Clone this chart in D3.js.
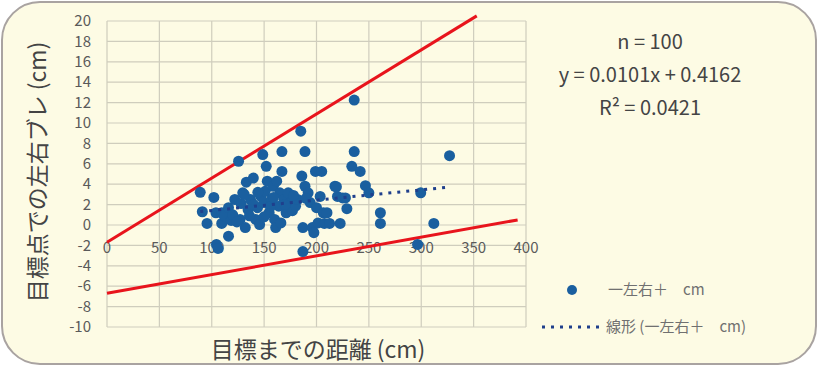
<!DOCTYPE html>
<html>
<head>
<meta charset="utf-8">
<script src="https://cdn.jsdelivr.net/npm/d3@7"></script>
<style>
  body { margin: 0; background: #fff; }
  text { font-family: "Noto Sans CJK JP", "Noto Sans", sans-serif; }
</style>
</head>
<body>
<div id="chart"></div>
<script>
// distance to target (cm) and left/right drift at the target (cm)
var distX = [89, 91, 95.5, 102, 104.5, 106, 104, 109.5, 109.5, 112,
             116, 116, 118.5, 122, 125.6, 127, 128, 129.6, 132, 133,
             134.7, 137, 139.7, 142, 143.7, 145.7, 147, 148.7, 149.7, 151,
             152, 153, 154.8, 157, 158.8, 160, 161, 162, 164, 165,
             166, 167, 167, 169, 171, 173, 175, 177, 180, 182,
             185, 186, 187, 189, 189, 187, 192, 194, 196, 197.5,
             199, 200, 201.5, 203.5, 205, 206.5, 207.5, 210, 212.5, 217.6,
             220, 222.6, 225, 227.6, 229, 233.7, 236, 236, 241.7, 246.7,
             250, 261, 261, 296.5, 299.5, 312, 327, 120, 124, 131,
             136, 140, 144, 150, 156, 159, 170, 178, 190, 219];
var driftY = [3.2, 1.3, 0.15, 2.7, -1.9, -2.3, 1.2, 1.2, 0.15, 0.9,
              1.7, -1.1, 0.45, 2.5, 6.25, 0.55, 2.1, 3.15, -0.25, 4.2,
              1.5, 2.5, 4.6, 0.55, 1.7, 0.05, 2.8, 6.9, 2.2, 3.3,
              5.75, 4.3, 1.2, 2.5, 3.8, 0.55, -0.25, 4.3, 1.85, 3.15,
              0.2, 7.2, 5.25, 2.5, 1.2, 3.15, 2.2, 1.4, 1.85, 2.5,
              9.2, 4.8, -0.25, 7.2, 3.8, -2.6, 3.15, 2.2, -0.25, -0.75,
              5.25, 1.7, 0.2, 2.8, 5.25, 1.2, 0.15, 1.2, 0.15, 3.8,
              2.8, 0.15, 2.65, 2.65, 1.6, 5.75, 12.25, 7.2, 5.25, 3.85,
              3.15, 1.2, 0.15, -1.9, 3.15, 0.15, 6.8, 1.0, 0.3, 3.0,
              0.9, 2.0, 3.2, 0.8, 1.8, 2.7, 2.0, 2.9, 2.6, 3.75];

// hand drawn red boundary lines [x, y]
var upperLine = [[0, -1.7], [353, 20.5]];
var lowerLine = [[0, -6.7], [392, 0.5]];

// linear trend
var slope = 0.0101, intercept = 0.4162;

var xTicks = [0, 50, 100, 150, 200, 250, 300, 350, 400];
var yTicks = [-10, -8, -6, -4, -2, 0, 2, 4, 6, 8, 10, 12, 14, 16, 18, 20];

var statLines = ["n = 100", "y = 0.0101x + 0.4162", "R\u00b2 = 0.0421"];
var seriesName = "一左右＋\u3000cm";
var trendName = "線形 (一左右＋\u3000cm)";

var width = 820, height = 369;

var svg = d3.select("#chart")
  .append("svg")
    .attr("width", width)
    .attr("height", height);

// card background
svg.append("rect")
  .attr("x", 2).attr("y", 2)
  .attr("width", 814).attr("height", 362)
  .attr("rx", 38).attr("ry", 38)
  .attr("fill", "#fdfbe4")
  .attr("stroke", "#a9a3a1")
  .attr("stroke-width", 2);

var x = d3.scaleLinear().domain([0, 400]).range([107, 526]);
var y = d3.scaleLinear().domain([-10, 20]).range([327, 21]);

// grid
svg.append("g")
  .selectAll("line.v")
  .data(xTicks)
  .enter().append("line")
    .attr("x1", function(d) { return x(d); })
    .attr("x2", function(d) { return x(d); })
    .attr("y1", y(-10)).attr("y2", y(20))
    .attr("stroke", "#cfcdbd").attr("stroke-width", 1.2);

svg.append("g")
  .selectAll("line.h")
  .data(yTicks)
  .enter().append("line")
    .attr("x1", x(0)).attr("x2", x(400))
    .attr("y1", function(d) { return y(d); })
    .attr("y2", function(d) { return y(d); })
    .attr("stroke", "#cfcdbd").attr("stroke-width", 1.2);

// y tick labels
svg.append("g")
  .selectAll("text")
  .data(yTicks)
  .enter().append("text")
    .attr("x", 91)
    .attr("y", function(d) { return y(d); })
    .attr("dy", "0.35em")
    .attr("text-anchor", "end")
    .attr("font-size", 15)
    .attr("fill", "#5a5a5a")
    .text(function(d) { return d; });

// x tick labels (axis crosses at y = 0)
svg.append("g")
  .selectAll("text")
  .data(xTicks)
  .enter().append("text")
    .attr("x", function(d) { return x(d); })
    .attr("y", y(0) + 28)
    .attr("text-anchor", "middle")
    .attr("font-size", 15)
    .attr("fill", "#5a5a5a")
    .text(function(d) { return d; });

// red boundary lines
var line = d3.line()
  .x(function(d) { return x(d[0]); })
  .y(function(d) { return y(d[1]); });

[upperLine, lowerLine].forEach(function(l) {
  svg.append("path")
    .datum(l)
    .attr("d", line)
    .attr("fill", "none")
    .attr("stroke", "#e8141c")
    .attr("stroke-width", 3);
});

// points
var points = distX.map(function(d, i) { return [d, driftY[i]]; });

svg.append("g")
  .selectAll("circle")
  .data(points)
  .enter().append("circle")
    .attr("cx", function(d) { return x(d[0]); })
    .attr("cy", function(d) { return y(d[1]); })
    .attr("r", 5.5)
    .attr("fill", "#1a5f9f");

// trend line over the data range
var xMin = d3.min(distX), xMax = d3.max(distX);
svg.append("path")
  .datum([[xMin, slope * xMin + intercept], [xMax, slope * xMax + intercept]])
  .attr("d", line)
  .attr("fill", "none")
  .attr("stroke", "#1f3f8c")
  .attr("stroke-width", 3)
  .attr("stroke-dasharray", "3,6");

// stats
svg.append("g")
  .selectAll("text")
  .data(statLines)
  .enter().append("text")
    .attr("x", 650)
    .attr("y", function(d, i) { return 42 + i * 33; })
    .attr("dy", "0.35em")
    .attr("text-anchor", "middle")
    .attr("font-family", "'Liberation Sans', Arial, sans-serif")
    .attr("font-size", 20)
    .attr("fill", "#444")
    .text(function(d) { return d; });

// legend
svg.append("circle")
  .attr("cx", 572).attr("cy", 290).attr("r", 5)
  .attr("fill", "#1a5f9f");
svg.append("text")
  .attr("x", 608).attr("y", 290).attr("dy", "0.35em")
  .attr("font-size", 15).attr("fill", "#707070")
  .text(seriesName);

svg.append("line")
  .attr("x1", 542).attr("x2", 602)
  .attr("y1", 327).attr("y2", 327)
  .attr("stroke", "#1f3f8c")
  .attr("stroke-width", 3)
  .attr("stroke-dasharray", "3,6");
svg.append("text")
  .attr("x", 606).attr("y", 327).attr("dy", "0.35em")
  .attr("font-size", 15).attr("fill", "#707070")
  .text(trendName);

// axis titles
svg.append("text")
  .attr("transform", "translate(38,172) rotate(-90)")
  .attr("text-anchor", "middle")
  .attr("dy", "0.35em")
  .attr("font-size", 23)
  .attr("fill", "#444")
  .text("目標点での左右ブレ (cm)");

svg.append("text")
  .attr("x", 318).attr("y", 350)
  .attr("text-anchor", "middle")
  .attr("dy", "0.35em")
  .attr("font-size", 23)
  .attr("fill", "#444")
  .text("目標までの距離 (cm)");
</script>
</body>
</html>
